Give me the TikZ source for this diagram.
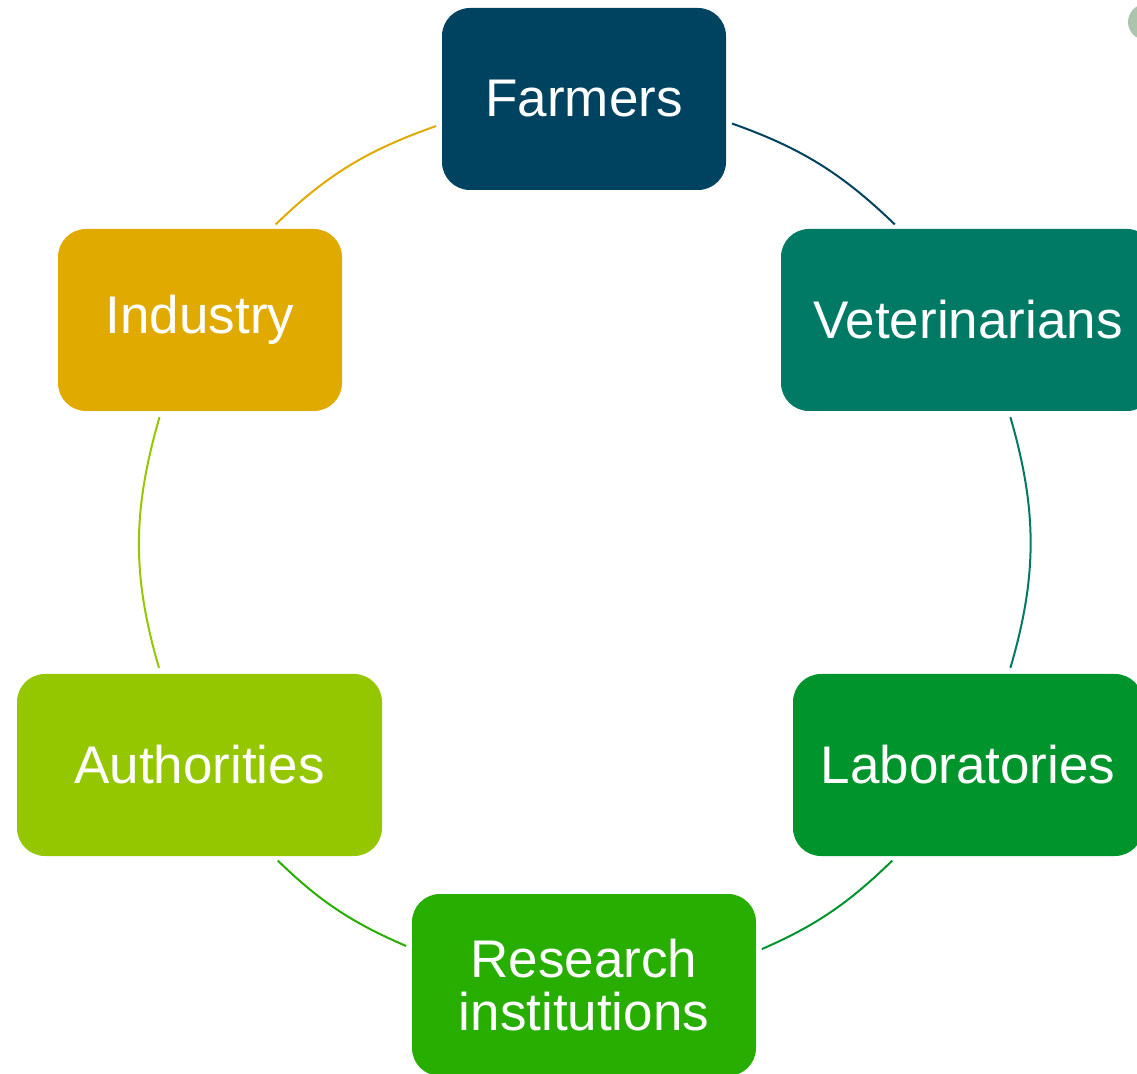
\documentclass[tikz,border=0pt]{standalone}
\usepackage{fontspec}
\setmainfont{Liberation Sans}
\definecolor{farmblue}{RGB}{0,67,96}
\definecolor{vetteal}{RGB}{0,122,100}
\definecolor{labgreen}{RGB}{0,149,44}
\definecolor{resgreen}{RGB}{39,174,0}
\definecolor{autlime}{RGB}{148,199,0}
\definecolor{indgold}{RGB}{224,170,0}
\definecolor{dotgrey}{RGB}{172,196,172}
\begin{document}
\begin{tikzpicture}[x=0.5pt,y=0.5pt,
	box/.style={rounded corners=14pt,inner sep=0pt,minimum height=91pt,text=white,align=center,font=\fontsize{26.5}{26.5}\selectfont},
	link/.style={line width=1pt,shorten <=3pt,shorten >=3pt}]
		\useasboundingbox (0,0) rectangle (1137,1073);
		\clip (0,0) rectangle (1137,1073);
		\fill[dotgrey] (1146,1051) circle[radius=18];
		% the six boxes round the circle
		\foreach \ten/\mau/\x/\y/\w/\nhan in {far/farmblue/584/974/142/Farmers,vet/vetteal/968/753/187/Veterinarians,lab/labgreen/968/308/175/Laboratories,res/resgreen/584/88/172/{Research\\institutions},aut/autlime/199.5/308/182.5/Authorities,ind/indgold/200/753/142/Industry}
		\node[box,fill=\mau,minimum width=\w pt] (\ten) at (\x,\y) {\nhan};
		% arcs, clockwise
		\foreach \a/\b/\mau/\s/\o/\t/\i in {far/vet/farmblue/-9.6/-19.5/127.4/136,vet/lab/vetteal/-66.8/-73.8/66.8/73.6,lab/res/labgreen/-128.3/-135.8/11.1/23.6,res/aut/resgreen/168.8/156.7/-51.7/-44.2,aut/ind/autlime/113.2/106.4/-113.2/-106.2,ind/far/indgold/52/44.2/-170.3/-160.6}
		\draw[link,\mau] (\a.\s) to[out=\o,in=\i] (\b.\t);
	\end{tikzpicture}
\end{document}
